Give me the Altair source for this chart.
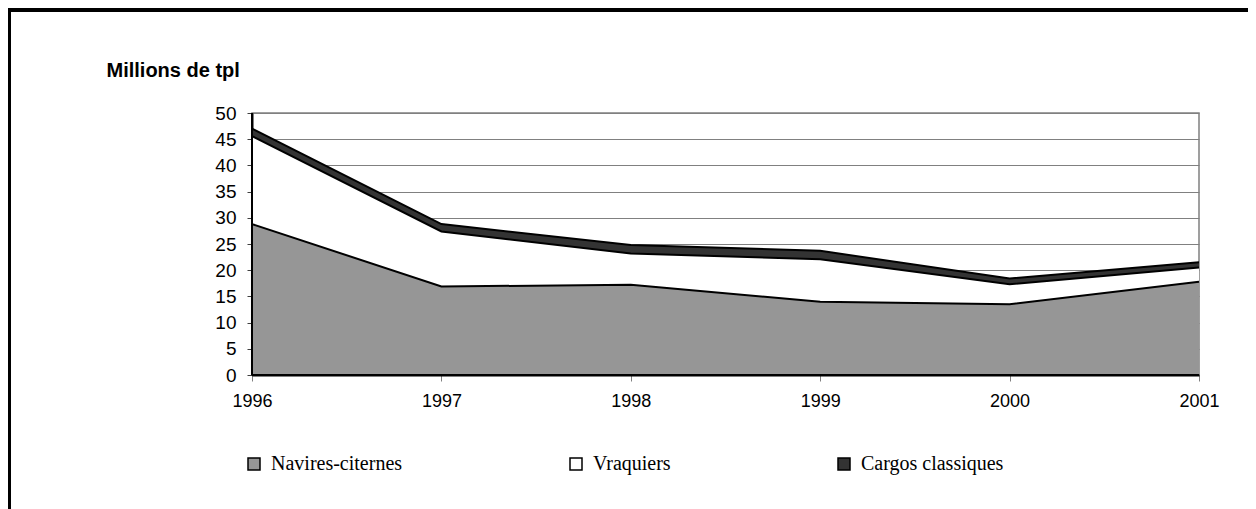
import altair as alt
import pandas as pd

years = [1996, 1997, 1998, 1999, 2000, 2001]
series = ["Navires-citernes", "Vraquiers", "Cargos classiques"]
navires = [28.8, 16.9, 17.2, 14.0, 13.5, 17.8]
vraquiers = [16.8, 10.5, 6.0, 8.1, 3.8, 2.7]
cargos = [1.4, 1.4, 1.6, 1.6, 1.1, 1.0]
fills = ["#969696", "#ffffff", "#333333"]
yticks = [0, 5, 10, 15, 20, 25, 30, 35, 40, 45, 50]

rows = []
for i, y in enumerate(years):
    base = 0.0
    for k, (name, vals) in enumerate(zip(series, [navires, vraquiers, cargos])):
        rows.append({"year": y, "series": name, "order": k,
                     "lower": base, "upper": base + vals[i]})
        base += vals[i]
df = pd.DataFrame(rows)

W, H = 947, 262
PL, PT, PR, PB = 244, 105, 49, 134

x = alt.X("year:Q", scale=alt.Scale(domain=[1996, 2001], nice=False, zero=False),
          axis=alt.Axis(values=years, format="d", title=None, grid=False,
                        labelFlush=False, labelOverlap=False,
                        domainColor="black", domainWidth=2, tickColor="#808080",
                        tickSize=6, labelFont="Liberation Sans", labelFontSize=18,
                        labelColor="black", labelPadding=11))
y = alt.Y("upper:Q", scale=alt.Scale(domain=[0, 50], nice=False),
          axis=alt.Axis(values=yticks, tickCount=11, labelOverlap=False,
                        title="Millions de tpl",
                        titleAngle=0, titleX=-146, titleY=-37, titleAlign="left",
                        titleBaseline="alphabetic",
                        titleFont="Liberation Sans", titleFontSize=20, titleFontWeight="bold",
                        titleColor="black",
                        grid=True, gridColor="#808080", gridWidth=1,
                        domainColor="black", domainWidth=2, tickColor="#404040",
                        tickSize=5, labelFont="Liberation Sans", labelFontSize=19,
                        labelColor="black", labelPadding=11))

area = alt.Chart(df).mark_area(opacity=1).encode(
    x=x, y=y, y2="lower:Q",
    color=alt.Color("series:N", scale=alt.Scale(domain=series, range=fills),
                    legend=alt.Legend(orient="none", legendX=-8, legendY=341,
                                      direction="horizontal", title=None,
                                      symbolType="square", symbolSize=144,
                                      symbolStrokeColor="black", symbolStrokeWidth=1.5,
                                      symbolOpacity=1,
                                      labelFont="Liberation Serif", labelFontSize=20,
                                      labelColor="black", labelOffset=7,
                                      columnPadding=163, labelLimit=400)),
    order=alt.Order("order:Q"),
)

lines = alt.Chart(df).mark_line(color="black", strokeWidth=2).encode(
    x="year:Q", y="upper:Q", detail="series:N"
)

# axis lines redrawn above the areas (grid stays underneath)
left_axis = alt.Chart(df).mark_rule(color="black", strokeWidth=2).encode(
    x=alt.value(0), y=alt.value(0), y2=alt.value(H)
)
bottom_axis = alt.Chart(df).mark_rule(color="black", strokeWidth=2).encode(
    x=alt.value(0), x2=alt.value(W), y=alt.value(H)
)

frame_top = alt.Chart(df).mark_rule(color="black", strokeWidth=4).encode(
    x=alt.value(-PL), x2=alt.value(W + PR), y=alt.value(-PT + 2)
)
frame_left = alt.Chart(df).mark_rule(color="black", strokeWidth=4).encode(
    x=alt.value(-PL + 1), y=alt.value(-PT), y2=alt.value(H + PB)
)

chart = alt.layer(area, lines, left_axis, bottom_axis, frame_top, frame_left).properties(
    width=W, height=H,
    autosize=alt.AutoSizeParams(type="none"),
    padding={"left": PL, "top": PT, "right": PR, "bottom": PB},
    background="white",
).configure_view(stroke="#808080", strokeWidth=1.5)

chart.save("out.html", embed_options={"renderer": "svg", "actions": False})
